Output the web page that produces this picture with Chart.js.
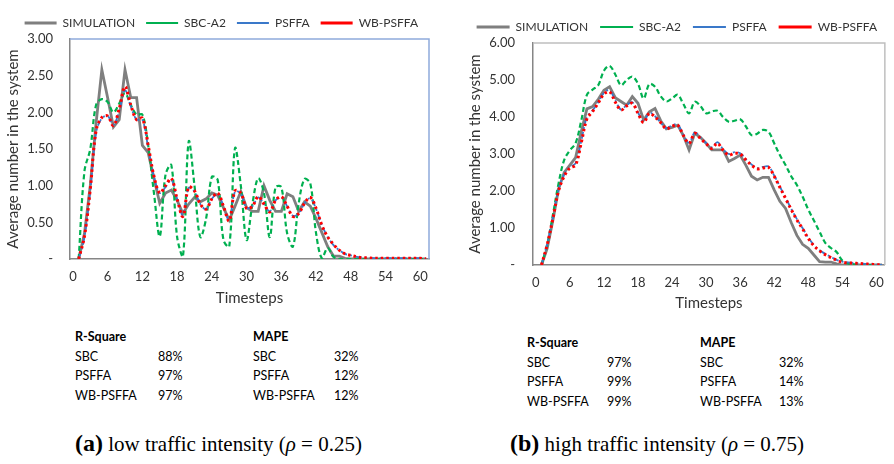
<!DOCTYPE html>
<html>
<head>
<meta charset="utf-8">
<script src="https://cdn.jsdelivr.net/npm/chart.js@4.4.1/dist/chart.umd.min.js"></script>
<style>
  body { margin: 0; background: #fff; width: 894px; height: 464px; position: relative; overflow: hidden; font-family: Lato, sans-serif; }
  .wrap { position: absolute; }
  #wrapLow { left: 0; top: -7px; width: 445px; height: 317px; }
  #wrapHigh { left: 447px; top: -3px; width: 447px; height: 318px; }
  table.stats { position: absolute; border-collapse: collapse; font-family: Lato, sans-serif; font-size: 12.5px; color: #000; }
  table.stats td { padding: 0; height: 19.5px; line-height: 19.5px; white-space: nowrap; }
  table.stats th { padding: 0; height: 19.5px; line-height: 19.5px; text-align: left; font-weight: bold; }
  #statsLow { left: 75px; top: 327px; }
  #statsHigh { left: 527px; top: 333px; }
  .caption { position: absolute; top: 430px; font-family: "Liberation Serif", serif; font-size: 21px; color: #000; white-space: nowrap; }
  .caption b { font-size: 24px; }
  #capLow { left: 75px; }
  #capHigh { left: 510px; }
</style>
</head>
<body>
<div class="wrap" id="wrapLow"><canvas id="chartLow"></canvas></div>
<div class="wrap" id="wrapHigh"><canvas id="chartHigh"></canvas></div>

<table class="stats" id="statsLow">
  <colgroup><col style="width:83px"><col style="width:95px"><col style="width:81px"><col style="width:40px"></colgroup>
  <tr><th>R-Square</th><th></th><th>MAPE</th><th></th></tr>
  <tr><td>SBC</td><td>88%</td><td>SBC</td><td>32%</td></tr>
  <tr><td>PSFFA</td><td>97%</td><td>PSFFA</td><td>12%</td></tr>
  <tr><td>WB-PSFFA</td><td>97%</td><td>WB-PSFFA</td><td>12%</td></tr>
</table>

<table class="stats" id="statsHigh">
  <colgroup><col style="width:80px"><col style="width:93px"><col style="width:79px"><col style="width:40px"></colgroup>
  <tr><th>R-Square</th><th></th><th>MAPE</th><th></th></tr>
  <tr><td>SBC</td><td>97%</td><td>SBC</td><td>32%</td></tr>
  <tr><td>PSFFA</td><td>99%</td><td>PSFFA</td><td>14%</td></tr>
  <tr><td>WB-PSFFA</td><td>99%</td><td>WB-PSFFA</td><td>13%</td></tr>
</table>

<div class="caption" id="capLow"><b>(a)</b> low traffic intensity (<i>ρ</i> = 0.25)</div>
<div class="caption" id="capHigh"><b>(b)</b> high traffic intensity (<i>ρ</i> = 0.75)</div>

<script>
const timesteps = [1, 2, 3, 4, 5, 6, 7, 8, 9, 10, 11, 12, 13, 14, 15, 16, 17, 18, 19, 20,
  21, 22, 23, 24, 25, 26, 27, 28, 29, 30, 31, 32, 33, 34, 35, 36, 37, 38, 39, 40,
  41, 42, 43, 44, 45, 46, 47, 48, 49, 50, 51, 52, 53, 54, 55, 56, 57, 58, 59, 60, 61];
const xTickValues = [0, 6, 12, 18, 24, 30, 36, 42, 48, 54, 60];
const seriesNames = ["SIMULATION", "SBC-A2", "PSFFA", "WB-PSFFA"];

// (a) low traffic intensity
const simLow = [0, 0.35, 1.0, 1.85, 2.58, 2.2, 1.8, 1.9, 2.58, 2.2,
  2.2, 1.55, 1.45, 1.1, 0.76, 0.9, 0.94, 0.8, 0.62, 0.75,
  0.84, 0.78, 0.82, 0.9, 0.87, 0.7, 0.53, 0.72, 0.92, 0.7,
  0.65, 0.65, 1.0, 0.8, 0.65, 0.65, 0.89, 0.85, 0.65, 0.78,
  0.72, 0.55, 0.36, 0.17, 0.04, 0.04, 0.01, 0, 0, 0,
  0, 0, 0, 0, 0, 0, 0, 0, 0, 0, 0];
const sbcLow = [0, 1.2, 1.5, 2.1, 2.18, 2.14, 2.0, 2.12, 2.26, 2.1,
  1.97, 1.97, 1.55, 0.9, 0.31, 1.15, 1.28, 0.3, 0.03, 1.6,
  1.0, 0.3, 0.55, 1.12, 1.08, 0.26, 0.17, 1.51, 1.0, 0.26,
  0.75, 1.1, 0.9, 0.3, 0.98, 0.98, 0.35, 0.17, 0.76, 1.09,
  1.03, 0.35, 0.01, 0.15, 0.03, 0, 0, 0, 0, 0,
  0, 0, 0, 0, 0, 0, 0, 0, 0, 0, 0];
const psffaLow = [0, 0.3, 0.93, 1.72, 1.92, 1.95, 1.83, 2.02, 2.3, 2.08,
  1.9, 1.9, 1.52, 1.12, 0.9, 0.98, 1.08, 0.82, 0.6, 0.97,
  0.92, 0.75, 0.68, 0.82, 0.89, 0.72, 0.53, 0.92, 0.89, 0.7,
  0.72, 0.84, 0.75, 0.65, 0.8, 0.84, 0.72, 0.59, 0.62, 0.76,
  0.83, 0.68, 0.46, 0.3, 0.19, 0.12, 0.07, 0.05, 0.03, 0.02,
  0.015, 0.01, 0.01, 0.01, 0.01, 0.01, 0.01, 0.01, 0.01, 0.01, 0];
const wbLow = [0, 0.31, 0.95, 1.75, 1.93, 1.95, 1.82, 2.05, 2.35, 2.1,
  1.9, 1.92, 1.55, 1.13, 0.9, 1.0, 1.1, 0.82, 0.58, 0.98,
  0.93, 0.75, 0.68, 0.82, 0.9, 0.72, 0.52, 0.93, 0.9, 0.69,
  0.72, 0.85, 0.75, 0.64, 0.8, 0.85, 0.72, 0.58, 0.62, 0.76,
  0.84, 0.69, 0.46, 0.3, 0.2, 0.12, 0.07, 0.05, 0.03, 0.02,
  0.015, 0.01, 0.01, 0.01, 0.01, 0.01, 0.01, 0.01, 0.01, 0.01, 0];

// (b) high traffic intensity
const simHigh = [0, 0.45, 1.2, 2.05, 2.5, 2.7, 2.9, 3.6, 4.22, 4.28,
  4.48, 4.72, 4.82, 4.52, 4.42, 4.32, 4.55, 4.37, 3.92, 4.14,
  4.23, 3.9, 3.68, 3.72, 3.78, 3.5, 3.11, 3.56, 3.45, 3.29,
  3.11, 3.11, 3.11, 2.8, 2.88, 2.97, 2.7, 2.4, 2.3, 2.37,
  2.37, 2.03, 1.72, 1.53, 1.15, 0.8, 0.56, 0.45, 0.27, 0.09,
  0.08, 0.08, 0.03, 0, 0, 0, 0, 0, 0, 0, 0];
const sbcHigh = [0, 0.55, 1.35, 2.2, 2.84, 3.1, 3.29, 3.9, 4.6, 4.74,
  4.86, 5.25, 5.38, 5.15, 4.86, 5.0, 5.09, 4.9, 4.5, 4.89,
  4.82, 4.56, 4.42, 4.5, 4.6, 4.35, 4.1, 4.41, 4.3, 4.1,
  4.15, 4.17, 4.0, 3.87, 3.9, 3.94, 3.75, 3.51, 3.55, 3.65,
  3.6, 3.29, 2.97, 2.7, 2.4, 2.16, 1.85, 1.5, 1.2, 0.9,
  0.6, 0.46, 0.35, 0.12, 0.04, 0.02, 0, 0, 0, 0, 0];
const psffaHigh = [0, 0.58, 1.3, 2.05, 2.45, 2.65, 2.75, 3.35, 4.0, 4.18,
  4.4, 4.65, 4.72, 4.45, 4.2, 4.32, 4.4, 4.12, 3.88, 4.12,
  4.02, 3.85, 3.7, 3.77, 3.8, 3.52, 3.3, 3.58, 3.45, 3.3,
  3.18, 3.32, 3.13, 3.0, 3.05, 3.02, 2.86, 2.72, 2.62, 2.65,
  2.66, 2.42, 2.12, 1.82, 1.52, 1.24, 1.0, 0.74, 0.54, 0.4,
  0.3, 0.22, 0.14, 0.09, 0.07, 0.05, 0.04, 0.03, 0.02, 0.01, 0];
const wbHigh = [0, 0.55, 1.25, 2.0, 2.4, 2.62, 2.7, 3.3, 3.95, 4.15,
  4.38, 4.62, 4.68, 4.4, 4.19, 4.3, 4.37, 4.1, 3.85, 4.1,
  4.0, 3.85, 3.68, 3.75, 3.78, 3.5, 3.29, 3.56, 3.42, 3.28,
  3.15, 3.29, 3.1, 2.97, 3.02, 3.0, 2.84, 2.7, 2.6, 2.62,
  2.64, 2.4, 2.1, 1.8, 1.5, 1.22, 0.98, 0.72, 0.52, 0.38,
  0.28, 0.2, 0.13, 0.08, 0.06, 0.05, 0.04, 0.03, 0.02, 0.01, 0];

const seriesStyle = [
  { color: "#7f7f7f", width: 2.8, dash: [], tension: 0 },
  { color: "#00b050", width: 2.2, dash: [5, 3], tension: 0.35 },
  { color: "#3a78c9", width: 1.8, dash: [7, 3, 2, 3], tension: 0.35 },
  { color: "#ff0000", width: 3, dash: [2.5, 3], tension: 0.35 }
];

const textColor = "#333333";

// draws top and right edges of the plot frame
const framePlugin = {
  id: "frame",
  afterDatasetsDraw: function (chart, args, opts) {
    const ctx = chart.ctx;
    const a = chart.chartArea;
    ctx.save();
    ctx.strokeStyle = opts.color;
    ctx.lineWidth = opts.width;
    ctx.beginPath();
    ctx.moveTo(a.left, a.top);
    ctx.lineTo(a.right, a.top);
    ctx.lineTo(a.right, a.bottom);
    ctx.stroke();
    ctx.restore();
  }
};

function makeChart(canvasId, values, s) {
  const datasets = values.map(function (vals, i) {
    const st = seriesStyle[i];
    return {
      label: seriesNames[i],
      data: vals.map(function (v, j) { return { x: timesteps[j], y: v }; }),
      borderColor: st.color,
      backgroundColor: st.color,
      borderWidth: st.width,
      borderDash: st.dash,
      tension: st.tension,
      pointRadius: 0,
      fill: false,
      order: 4 - i
    };
  });

  return new Chart(document.getElementById(canvasId), {
    type: "line",
    data: { datasets: datasets },
    options: {
      responsive: true,
      maintainAspectRatio: false,
      animation: false,
      layout: { padding: { left: 0, right: s.padRight, top: 0, bottom: 0 } },
      plugins: {
        legend: {
          position: "top",
          align: "end",
          labels: {
            usePointStyle: true,
            pointStyle: "line",
            pointStyleWidth: s.legendLine,
            padding: s.legendPad,
            color: textColor,
            font: { family: "Lato", size: 12 },
            sort: function (a, b) { return a.datasetIndex - b.datasetIndex; }
          }
        },
        tooltip: { enabled: false },
        frame: { color: s.frameColor, width: 1.5 }
      },
      scales: {
        x: {
          type: "linear",
          min: -0.5,
          max: 61.5,
          afterBuildTicks: function (axis) {
            axis.ticks = xTickValues.map(function (v) { return { value: v }; });
          },
          afterFit: function (scale) { scale.height = s.xAxisHeight; },
          grid: { display: false, drawTicks: false },
          border: { display: true, color: s.axisColor, width: 1.5 },
          ticks: { padding: 10, color: textColor, font: { family: "Lato", size: 13 }, maxRotation: 0, autoSkip: false },
          title: { display: true, text: "Timesteps", color: textColor, font: { family: "Lato", size: 15 }, padding: { top: 0, bottom: 3 } }
        },
        y: {
          min: 0,
          max: s.yMax,
          afterFit: function (scale) {
            scale.width = s.yAxisWidth;
            scale.paddingTop = s.plotTop;
          },
          grid: { display: false, drawTicks: false },
          border: { display: true, color: s.axisColor, width: 1.5 },
          ticks: {
            stepSize: s.yStep,
            padding: s.yTickPad,
            color: textColor,
            font: { family: "Lato", size: 13 },
            callback: function (v) { return v === 0 ? "-" : v.toFixed(2); }
          },
          title: { display: true, text: "Average number in the system", color: textColor, font: { family: "Lato", size: 15 }, padding: { top: s.yTitlePad, bottom: 0 } }
        }
      }
    },
    plugins: [framePlugin]
  });
}

makeChart("chartLow", [simLow, sbcLow, psffaLow, wbLow], {
  yMax: 3, yStep: 0.5, padRight: 16, xAxisHeight: 51, yAxisWidth: 70,
  plotTop: 46, yTickPad: 17, yTitlePad: 4, axisColor: "#868686", frameColor: "#8eaadb",
  legendLine: 32, legendPad: 11
});

makeChart("chartHigh", [simHigh, sbcHigh, psffaHigh, wbHigh], {
  yMax: 6, yStep: 1, padRight: 5, xAxisHeight: 50, yAxisWidth: 86,
  plotTop: 46, yTickPad: 18, yTitlePad: 19, axisColor: "#868686", frameColor: "#bfbfbf",
  legendLine: 33, legendPad: 12
});
</script>
</body>
</html>
